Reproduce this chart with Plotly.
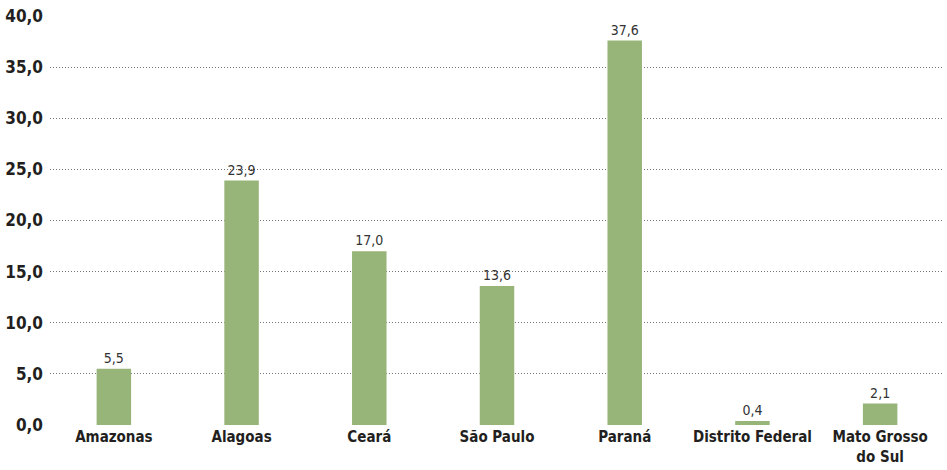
import plotly.graph_objects as go

categories = ["Amazonas", "Alagoas", "Ceará", "São Paulo", "Paraná", "Distrito Federal", "Mato Grosso<br>do Sul"]
values = [5.5, 23.9, 17.0, 13.6, 37.6, 0.4, 2.1]
y_ticks = [0, 5, 10, 15, 20, 25, 30, 35, 40]

FONT = "DejaVu Sans Condensed, Liberation Sans Narrow, Arial Narrow, sans-serif"

fig = go.Figure(go.Bar(
    x=categories, y=values,
    marker=dict(color="#97b579", line=dict(width=0)),
    texttemplate="%{y:.1f}", textposition="outside", cliponaxis=False,
    textfont=dict(family=FONT, size=14, color="#333333"),
))

fig.update_layout(
    width=947, height=470,
    margin=dict(l=50, r=3, t=16, b=45),
    paper_bgcolor="white", plot_bgcolor="white",
    separators=",.",
    bargap=0.73,
    showlegend=False,
    font=dict(family=FONT, color="#231f20"),
)
fig.update_yaxes(
    range=[0, 40], tickvals=y_ticks, tickformat=".1f", automargin=False,
    showgrid=True, gridcolor="#777777", griddash="1px,2px", gridwidth=1,
    zeroline=False, showline=False, ticks="", ticklabelstandoff=6,
    tickfont=dict(family=FONT, size=17, color="#231f20", weight="bold"),
)
fig.update_xaxes(
    showgrid=False, showline=False, ticks="", ticklabelstandoff=1, automargin=False,
    tickfont=dict(family=FONT, size=15, color="#231f20", weight="bold"),
)

fig.write_html("out.html", config={"displayModeBar": False},
               post_script="document.body.style.margin='0px';")
